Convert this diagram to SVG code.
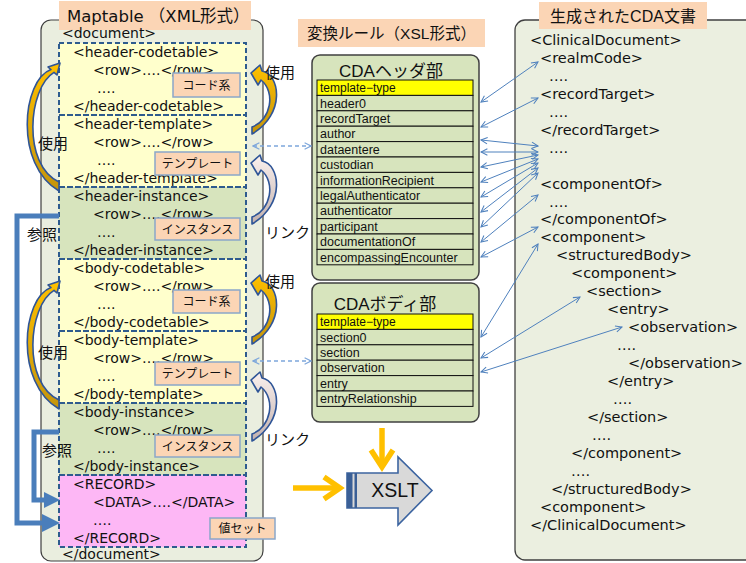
<svg xmlns="http://www.w3.org/2000/svg" width="746" height="563" viewBox="0 0 746 563">
  <style>
    .xml { font-family: "DejaVu Sans", "Noto Sans CJK JP", sans-serif; font-size: 14px; fill: #111; }
    .xmlr { font-family: "DejaVu Sans", "Noto Sans CJK JP", sans-serif; font-size: 14.5px; fill: #111; }
    .ttl { font-family: "Liberation Sans", "Noto Sans CJK JP", sans-serif; font-size: 16px; fill: #111; }
    .jp { font-family: "Noto Sans CJK JP", sans-serif; font-size: 15px; fill: #111; }
    .cell { font-family: "Liberation Sans", Arial, sans-serif; font-size: 12.5px; fill: #111; }
    .tt { font-family: "Liberation Sans", "Noto Sans CJK JP", sans-serif; font-size: 12px; fill: #111; }
    .row { fill: #D7E4BD; stroke: #111; stroke-width: 1; }
    .sec { fill: none; stroke: #2E5B8E; stroke-width: 2; stroke-dasharray: 5 3; }
    .tag { fill: #FBD5B5; stroke: #8BA7C9; stroke-width: 1.5; }
    .tagt { font-family: "Noto Sans CJK JP", sans-serif; font-size: 12px; fill: #111; text-anchor: middle; }
    .lk { fill: none; stroke: #4F81BD; stroke-width: 1; marker-start: url(#ah); marker-end: url(#ah); }
    .dash { fill: none; stroke: #7DA6DB; stroke-width: 1.4; stroke-dasharray: 4 3; marker-start: url(#ahd); marker-end: url(#ahd); }
    .ref { fill: none; stroke: #4A7EBB; stroke-width: 5; }
    .org { fill: none; stroke: #FFC000; stroke-width: 5.5; stroke-linejoin: miter; }
    .curve { stroke: #2F5597; stroke-width: 1.6; stroke-linejoin: round; }
  </style>
  <defs>
    <marker id="ah" viewBox="0 0 10 10" refX="9" refY="5" markerWidth="8" markerHeight="8" orient="auto-start-reverse" markerUnits="userSpaceOnUse">
      <path d="M1,1 L9,5 L1,9" fill="none" stroke="#4F81BD" stroke-width="1.3"/>
    </marker>
    <marker id="ahd" viewBox="0 0 10 10" refX="9" refY="5" markerWidth="8" markerHeight="8" orient="auto-start-reverse" markerUnits="userSpaceOnUse">
      <path d="M1,1 L9,5 L1,9" fill="none" stroke="#7DA6DB" stroke-width="1.4"/>
    </marker>
    <linearGradient id="gold" x1="0" y1="0" x2="0" y2="1">
      <stop offset="0" stop-color="#FFC000"/>
      <stop offset="1" stop-color="#C4940C"/>
    </linearGradient>
    <linearGradient id="pale" x1="0" y1="0" x2="0" y2="1">
      <stop offset="0" stop-color="#FBF1EE"/>
      <stop offset="1" stop-color="#C2B1AE"/>
    </linearGradient>
    <!-- curved arrow bending right, head pointing left -->
    <path id="curveR" d="M 251 73 L 260 65 L 262 71 C 280 74, 286 114, 252 134 L 252 127 C 271 120, 276 92, 261 80 L 258 85 Z"/>
    <!-- long curved arrow bending left, head pointing up-right -->
    <path id="curveL" d="M 60 63 L 57 75 L 54 72.4 C 28 88, 22 165, 59 182 L 59 191 C 14 165, 22 80, 51 69.6 L 48 67 Z"/>
  </defs>

  <!-- Maptable panel -->
  <g id="maptable">
    <rect x="41" y="20" width="222" height="541" rx="10" fill="#EAEEDF" stroke="#3F3F3F" stroke-width="1.2"/>
    <rect x="59" y="1" width="192" height="29" fill="#FBD5B5"/>
    <text class="xml" x="67" y="22" style="font-size:16.5px">Maptable （XML形式）</text>
    <text class="xml" x="62" y="38">&lt;document&gt;</text>
    <text class="xml" x="62" y="559">&lt;/document&gt;</text>
  </g>

  <g id="header-codetable">
    <rect x="59" y="43" width="187" height="72" fill="#FFFFCC"/>
    <text class="xml" x="73" y="57">&lt;header-codetable&gt;</text>
    <text class="xml" x="93" y="75">&lt;row&gt;….&lt;/row&gt;</text>
    <text class="xml" x="97" y="93">….</text>
    <text class="xml" x="73" y="111">&lt;/header-codetable&gt;</text>
    <rect class="tag" x="173" y="73" width="67" height="24"/>
    <text class="tagt" x="206.5" y="89.5">コード系</text>
  </g>
  <g id="header-template">
    <rect x="59" y="115" width="187" height="72" fill="#FFFFCC"/>
    <text class="xml" x="73" y="129">&lt;header-template&gt;</text>
    <text class="xml" x="93" y="147">&lt;row&gt;….&lt;/row&gt;</text>
    <text class="xml" x="97" y="165">….</text>
    <text class="xml" x="73" y="183">&lt;/header-template&gt;</text>
    <rect class="tag" x="155" y="152" width="85" height="23"/>
    <text class="tagt" x="197.5" y="168">テンプレート</text>
  </g>
  <g id="header-instance">
    <rect x="59" y="187" width="187" height="72" fill="#D7E4BD"/>
    <text class="xml" x="73" y="201">&lt;header-instance&gt;</text>
    <text class="xml" x="93" y="219">&lt;row&gt;….&lt;/row&gt;</text>
    <text class="xml" x="97" y="237">….</text>
    <text class="xml" x="73" y="255">&lt;/header-instance&gt;</text>
    <rect class="tag" x="155" y="218" width="85" height="22"/>
    <text class="tagt" x="197.5" y="233.5">インスタンス</text>
  </g>
  <g id="body-codetable">
    <rect x="59" y="259" width="187" height="72" fill="#FFFFCC"/>
    <text class="xml" x="73" y="273">&lt;body-codetable&gt;</text>
    <text class="xml" x="93" y="291">&lt;row&gt;….&lt;/row&gt;</text>
    <text class="xml" x="97" y="309">….</text>
    <text class="xml" x="73" y="327">&lt;/body-codetable&gt;</text>
    <rect class="tag" x="173" y="290" width="67" height="23"/>
    <text class="tagt" x="206.5" y="306">コード系</text>
  </g>
  <g id="body-template">
    <rect x="59" y="331" width="187" height="72" fill="#FFFFCC"/>
    <text class="xml" x="73" y="345">&lt;body-template&gt;</text>
    <text class="xml" x="93" y="363">&lt;row&gt;….&lt;/row&gt;</text>
    <text class="xml" x="97" y="381">….</text>
    <text class="xml" x="73" y="399">&lt;/body-template&gt;</text>
    <rect class="tag" x="155" y="362" width="85" height="23"/>
    <text class="tagt" x="197.5" y="378">テンプレート</text>
  </g>
  <g id="body-instance">
    <rect x="59" y="403" width="187" height="72" fill="#D7E4BD"/>
    <text class="xml" x="73" y="417">&lt;body-instance&gt;</text>
    <text class="xml" x="93" y="435">&lt;row&gt;….&lt;/row&gt;</text>
    <text class="xml" x="97" y="453">….</text>
    <text class="xml" x="73" y="471">&lt;/body-instance&gt;</text>
    <rect class="tag" x="155" y="435" width="85" height="22"/>
    <text class="tagt" x="197.5" y="450.5">インスタンス</text>
  </g>
  <g id="record">
    <rect x="59" y="475" width="187" height="72" fill="#FDB7F5"/>
    <text class="xml" x="73" y="489">&lt;RECORD&gt;</text>
    <text class="xml" x="93" y="507">&lt;DATA&gt;….&lt;/DATA&gt;</text>
    <text class="xml" x="93" y="525">….</text>
    <text class="xml" x="73" y="543">&lt;/RECORD&gt;</text>
  </g>
  <!-- dashed outlines of the table sections -->
  <g id="section-borders">
    <rect class="sec" x="59" y="43" width="187" height="72"/>
    <rect class="sec" x="59" y="115" width="187" height="72"/>
    <rect class="sec" x="59" y="187" width="187" height="72"/>
    <rect class="sec" x="59" y="259" width="187" height="72"/>
    <rect class="sec" x="59" y="331" width="187" height="72"/>
    <rect class="sec" x="59" y="403" width="187" height="72"/>
    <rect class="sec" x="59" y="475" width="187" height="72"/>
  </g>
  <g id="value-set">
    <rect class="tag" x="210" y="518" width="65" height="21"/>
    <text class="tagt" x="242.5" y="533">値セット</text>
  </g>

  <!-- XSL conversion rules -->
  <g id="xsl-title">
    <rect x="298" y="19" width="187" height="28" fill="#FBD5B5"/>
    <text class="ttl" x="391.5" y="39" text-anchor="middle" style="font-size:15.5px">変換ルール（XSL形式）</text>
  </g>
  <g id="cda-header">
    <rect x="312" y="55" width="167" height="225" rx="8" fill="#D7E4BD" stroke="#404040" stroke-width="1.5"/>
    <text class="ttl" x="391" y="77" text-anchor="middle" style="font-size:17px">CDAヘッダ部</text>
    <rect x="317" y="80" width="156" height="15.4" fill="#FFFF00" stroke="#111" stroke-width="1"/>
    <text class="tt" x="320" y="92">template−type</text>
    <rect class="row" x="317" y="95.4" width="156" height="15.4"/>
    <text class="cell" x="320" y="107.5">header0</text>
    <rect class="row" x="317" y="110.8" width="156" height="15.4"/>
    <text class="cell" x="320" y="122.9">recordTarget</text>
    <rect class="row" x="317" y="126.2" width="156" height="15.4"/>
    <text class="cell" x="320" y="138.3">author</text>
    <rect class="row" x="317" y="141.6" width="156" height="15.4"/>
    <text class="cell" x="320" y="153.7">dataentere</text>
    <rect class="row" x="317" y="157" width="156" height="15.4"/>
    <text class="cell" x="320" y="169.1">custodian</text>
    <rect class="row" x="317" y="172.4" width="156" height="15.4"/>
    <text class="cell" x="320" y="184.5">informationRecipient</text>
    <rect class="row" x="317" y="187.8" width="156" height="15.4"/>
    <text class="cell" x="320" y="199.9">legalAuthenticator</text>
    <rect class="row" x="317" y="203.2" width="156" height="15.4"/>
    <text class="cell" x="320" y="215.3">authenticator</text>
    <rect class="row" x="317" y="218.6" width="156" height="15.4"/>
    <text class="cell" x="320" y="230.7">participant</text>
    <rect class="row" x="317" y="234" width="156" height="15.4"/>
    <text class="cell" x="320" y="246.1">documentationOf</text>
    <rect class="row" x="317" y="249.4" width="156" height="15.4"/>
    <text class="cell" x="320" y="261.5">encompassingEncounter</text>
  </g>
  <g id="cda-body">
    <rect x="312" y="283" width="167" height="139" rx="8" fill="#D7E4BD" stroke="#404040" stroke-width="1.5"/>
    <text class="ttl" x="385" y="310" text-anchor="middle" style="font-size:17px">CDAボディ部</text>
    <rect x="317" y="314" width="156" height="15.4" fill="#FFFF00" stroke="#111" stroke-width="1"/>
    <text class="tt" x="320" y="326">template−type</text>
    <rect class="row" x="317" y="329.4" width="156" height="15.4"/>
    <text class="cell" x="320" y="341.5">section0</text>
    <rect class="row" x="317" y="344.8" width="156" height="15.4"/>
    <text class="cell" x="320" y="356.9">section</text>
    <rect class="row" x="317" y="360.2" width="156" height="15.4"/>
    <text class="cell" x="320" y="372.3">observation</text>
    <rect class="row" x="317" y="375.6" width="156" height="15.4"/>
    <text class="cell" x="320" y="387.7">entry</text>
    <rect class="row" x="317" y="391" width="156" height="15.4"/>
    <text class="cell" x="320" y="403.1">entryRelationship</text>
  </g>

  <!-- XSLT processor -->
  <g id="xslt">
    <path d="M347 473 H398 V457 L432 490.5 L398 525 V508 H347 Z" fill="#D9D9D9" stroke="#3C64A0" stroke-width="1.6"/>
    <rect x="347" y="473" width="5.5" height="35" fill="#3A5F96"/>
    <rect x="354.5" y="473" width="2.5" height="35" fill="#3A5F96"/>
    <text class="ttl" x="395" y="497" text-anchor="middle" style="font-size:19.5px">XSLT</text>
  </g>

  <!-- Generated CDA document -->
  <g id="cda-document">
    <rect x="515" y="20" width="250" height="540" rx="10" fill="#EBEFE0" stroke="#404040" stroke-width="1.3"/>
    <rect x="539" y="2" width="168" height="27" fill="#FBD5B5"/>
    <text class="ttl" x="623" y="22" text-anchor="middle">生成されたCDA文書</text>
    <text class="xmlr" x="530" y="45">&lt;ClinicalDocument&gt;</text>
    <text class="xmlr" x="540" y="63">&lt;realmCode&gt;</text>
    <text class="xmlr" x="549" y="81">….</text>
    <text class="xmlr" x="540" y="99">&lt;recordTarget&gt;</text>
    <text class="xmlr" x="549" y="117">….</text>
    <text class="xmlr" x="540" y="135">&lt;/recordTarget&gt;</text>
    <text class="xmlr" x="549" y="153">….</text>
    <text class="xmlr" x="540" y="189">&lt;componentOf&gt;</text>
    <text class="xmlr" x="549" y="207">….</text>
    <text class="xmlr" x="540" y="224">&lt;/componentOf&gt;</text>
    <text class="xmlr" x="540" y="242">&lt;component&gt;</text>
    <text class="xmlr" x="556" y="260">&lt;structuredBody&gt;</text>
    <text class="xmlr" x="571" y="278">&lt;component&gt;</text>
    <text class="xmlr" x="586" y="296">&lt;section&gt;</text>
    <text class="xmlr" x="607" y="314">&lt;entry&gt;</text>
    <text class="xmlr" x="628" y="332">&lt;observation&gt;</text>
    <text class="xmlr" x="617" y="350">….</text>
    <text class="xmlr" x="628" y="368">&lt;/observation&gt;</text>
    <text class="xmlr" x="607" y="386">&lt;/entry&gt;</text>
    <text class="xmlr" x="613" y="404">….</text>
    <text class="xmlr" x="587" y="422">&lt;/section&gt;</text>
    <text class="xmlr" x="592" y="440">….</text>
    <text class="xmlr" x="571" y="458">&lt;/component&gt;</text>
    <text class="xmlr" x="571" y="476">….</text>
    <text class="xmlr" x="551" y="494">&lt;/structuredBody&gt;</text>
    <text class="xmlr" x="540" y="512">&lt;component&gt;</text>
    <text class="xmlr" x="530" y="530">&lt;/ClinicalDocument&gt;</text>
  </g>

  <!-- connectors -->
  <g id="connectors">
    <!-- use / link curves on the right of the table -->
    <use href="#curveR" class="curve" fill="url(#gold)"/>
    <use href="#curveR" class="curve" fill="url(#pale)" transform="translate(0,90)"/>
    <use href="#curveR" class="curve" fill="url(#gold)" transform="translate(0,210)"/>
    <use href="#curveR" class="curve" fill="url(#pale)" transform="translate(0,307)"/>
    <!-- use curves on the left of the table -->
    <use href="#curveL" class="curve" fill="url(#gold)"/>
    <use href="#curveL" class="curve" fill="url(#gold)" transform="translate(0,218)"/>
    <!-- reference brackets into RECORD -->
    <polyline class="ref" points="59,216 17,216 17,523 44,523"/>
    <polygon points="42,514 60,523 42,532" fill="#4A7EBB"/>
    <polyline class="ref" points="59,432 34,432 34,500 46,500"/>
    <polygon points="44,492 60,500 44,508" fill="#4A7EBB"/>
    <!-- template to XSL dashed links -->
    <line class="dash" x1="253" y1="146" x2="311" y2="146"/>
    <line class="dash" x1="253" y1="361" x2="311" y2="361"/>
    <!-- inputs to XSLT -->
    <line class="org" x1="382" y1="428" x2="382" y2="465"/>
    <polyline class="org" points="371,450 382,467 393,450"/>
    <line class="org" x1="293" y1="488" x2="338" y2="488"/>
    <polyline class="org" points="324,477 340,488 324,499"/>
    <!-- rule rows to generated elements -->
    <line class="lk" x1="481" y1="102" x2="538" y2="62"/>
    <line class="lk" x1="481" y1="127" x2="538" y2="98"/>
    <line class="lk" x1="481" y1="140" x2="538" y2="146"/>
    <line class="lk" x1="481" y1="152" x2="538" y2="152"/>
    <line class="lk" x1="481" y1="167" x2="538" y2="155"/>
    <line class="lk" x1="481" y1="182" x2="538" y2="159"/>
    <line class="lk" x1="481" y1="197" x2="538" y2="163"/>
    <line class="lk" x1="481" y1="212" x2="538" y2="168"/>
    <line class="lk" x1="481" y1="227" x2="538" y2="173"/>
    <line class="lk" x1="481" y1="242" x2="538" y2="195"/>
    <line class="lk" x1="481" y1="257" x2="538" y2="227"/>
    <line class="lk" x1="481" y1="337" x2="538" y2="244"/>
    <line class="lk" x1="481" y1="358" x2="580" y2="297"/>
    <line class="lk" x1="481" y1="372" x2="622" y2="327"/>
  </g>

  <!-- connector labels -->
  <g id="labels">
    <text class="jp" x="265" y="78">使用</text>
    <text class="jp" x="265" y="238">リンク</text>
    <text class="jp" x="265" y="287">使用</text>
    <text class="jp" x="265" y="445">リンク</text>
    <text class="jp" x="38" y="149">使用</text>
    <text class="jp" x="38" y="358">使用</text>
    <text class="jp" x="27" y="240">参照</text>
    <text class="jp" x="42" y="456">参照</text>
  </g>
</svg>
